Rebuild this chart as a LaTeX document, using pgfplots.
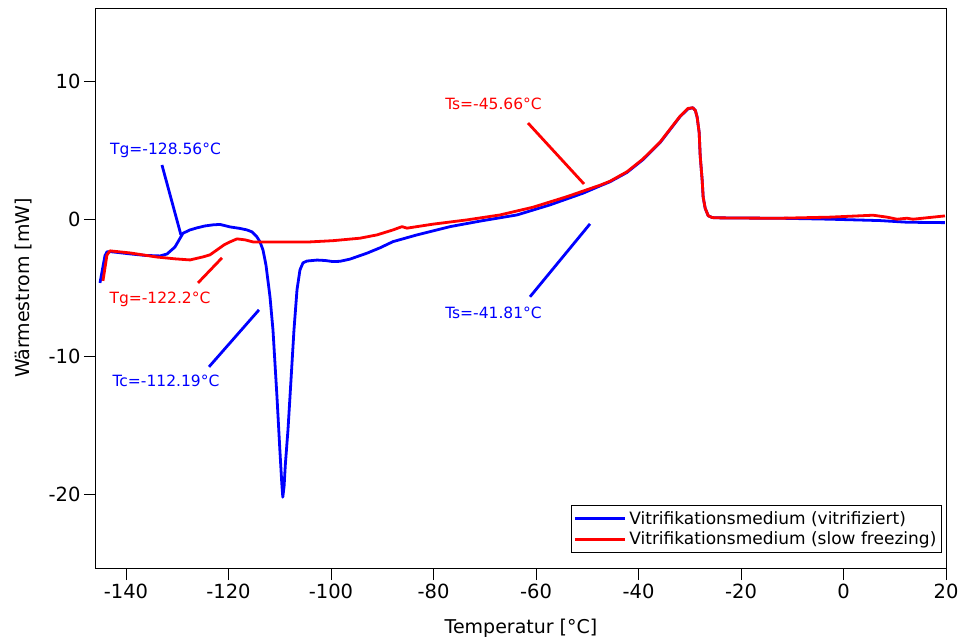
\documentclass[border=0pt]{standalone}
\usepackage{fontspec}
\setmainfont{DejaVu Sans}
\usepackage{pgfplots}
\pgfplotsset{compat=1.18}
\begin{document}
\begin{tikzpicture}
\useasboundingbox (0,0) rectangle (959pt,641pt);
\begin{axis}[
  at={(96pt,73pt)}, anchor=south west,
  width=850pt, height=560pt, scale only axis,
  xmin=-145.85, xmax=20, ymin=-25.35, ymax=15.35,
  xtick={-140,-120,...,20}, ytick={-20,-10,0,10},
  tick align=outside, major tick length=12pt,
  xtick pos=bottom, ytick pos=left,
  axis line style={line width=1pt, black},
  every tick/.style={black, line width=0.8pt},
  /pgf/number format/assume math mode=true,
  ticklabel style={font=\fontsize{19.5}{22}\selectfont},
  label style={font=\fontsize{19}{22}\selectfont},
  xlabel={Temperatur [°C]}, ylabel={Wärmestrom [mW]},
  xlabel style={at={(axis description cs:0.5,-0.1071)}, anchor=center},
  ylabel style={at={(axis description cs:-0.0847,0.5)}, anchor=center},
  legend style={at={(axis description cs:0.995,0.027)}, anchor=south east,
    draw=black, line width=0.8pt, font=\fontsize{17}{22}\selectfont,
    inner xsep=2pt, inner ysep=3pt, row sep=0pt, cells={anchor=west},
    nodes={inner ysep=3pt, inner xsep=3pt}},
  legend image code/.code={\path (-4pt,0pt) -- (46pt,0pt);\draw[line width=2.5pt] (0pt,0pt) -- (38pt,0pt);},
  every axis plot/.append style={line width=2.8pt, line join=round},
  clip=true,
]
\addplot[blue] coordinates {
(-145.07,-4.63) (-144.68,-3.83) (-144.10,-2.65) (-143.71,-2.37) (-142.73,-2.37)
(-139.22,-2.52) (-136.29,-2.63) (-133.37,-2.67) (-132.0,-2.53) (-130.44,-2.02)
(-128.88,-1.02) (-127.51,-0.78) (-126.15,-0.63) (-124.59,-0.49) (-123.02,-0.41)
(-121.66,-0.38) (-119.71,-0.56) (-117.76,-0.67) (-116.39,-0.78) (-115.41,-0.92)
(-114.44,-1.29) (-113.85,-1.65) (-113.27,-2.23) (-112.68,-3.34) (-111.90,-5.64)
(-111.32,-8.04) (-110.54,-12.9) (-110.0,-16.6) (-109.6,-19.2) (-109.4,-20.2)
(-109.15,-19.4) (-108.9,-17.8) (-108.39,-15.3) (-107.80,-11.67) (-107.22,-8.04)
(-106.63,-5.13) (-106.05,-3.68) (-105.46,-3.17) (-104.68,-3.04) (-102.73,-2.97)
(-101.17,-3.0) (-99.61,-3.08) (-98.24,-3.06) (-96.29,-2.90) (-92.98,-2.47)
(-90.44,-2.08) (-87.90,-1.63) (-83.22,-1.14) (-76.78,-0.54) (-70.34,-0.10)
(-63.71,0.31) (-57.27,1.04) (-50.83,1.89) (-47.51,2.42) (-45.56,2.72)
(-42.24,3.40) (-39.12,4.33) (-35.80,5.56) (-31.90,7.45) (-30.34,8.02)
(-29.4,8.1) (-28.9,7.9) (-28.55,7.4) (-28.16,6.3) (-27.96,4.6) (-27.57,2.8)
(-27.38,1.6) (-26.99,0.8) (-26.40,0.25) (-25.62,0.12) (-24.65,0.1)
(-18.24,0.08) (-12.39,0.07) (-2.63,0.0) (7.12,-0.1) (12.39,-0.22) (19.8,-0.25)
};
\addlegendentry{Vitrifikationsmedium (vitrifiziert)}
\addplot[red] coordinates {
(-144.49,-4.48) (-144.10,-3.54) (-143.71,-2.6) (-143.12,-2.30) (-139.22,-2.45)
(-133.95,-2.75) (-130.44,-2.88) (-127.51,-2.96) (-124.98,-2.74) (-123.61,-2.59)
(-122.24,-2.23) (-120.88,-1.87) (-119.71,-1.65) (-118.34,-1.43) (-116.78,-1.5)
(-115.22,-1.65) (-110.54,-1.65) (-104.10,-1.65) (-99.61,-1.56) (-94.34,-1.38)
(-91.02,-1.14) (-87.90,-0.78) (-86.15,-0.54) (-85.17,-0.65) (-80.10,-0.36)
(-73.46,-0.05) (-67.02,0.31) (-60.59,0.87) (-53.95,1.64) (-47.51,2.47)
(-45.56,2.76) (-42.24,3.45) (-39.12,4.38) (-35.80,5.60) (-31.90,7.48)
(-30.34,8.05) (-29.4,8.1) (-28.9,7.9) (-28.55,7.4) (-28.16,6.3) (-27.96,4.6)
(-27.57,2.8) (-27.38,1.6) (-26.99,0.8) (-26.40,0.25) (-25.62,0.12) (-24.65,0.1)
(-18.24,0.08) (-12.39,0.07) (-2.63,0.15) (5.76,0.29) (8.49,0.15) (10.44,0.0)
(12.39,0.07) (13.56,0.0) (19.8,0.24)
};
\addlegendentry{Vitrifikationsmedium (slow freezing)}
% annotations
\draw[blue, line width=2.8pt] (axis cs:-132.98,3.94) -- (axis cs:-129.27,-1.15);
\node[blue, font=\fontsize{15.5}{18}\selectfont] at (axis cs:-132.29,5.03) {Tg=-128.56°C};
\draw[red, line width=2.8pt] (axis cs:-125.95,-4.63) -- (axis cs:-121.27,-2.81);
\node[red, font=\fontsize{15.5}{18}\selectfont] at (axis cs:-133.37,-5.79) {Tg=-122.2°C};
\draw[blue, line width=2.8pt] (axis cs:-123.80,-10.73) -- (axis cs:-114.05,-6.59);
\node[blue, font=\fontsize{15.5}{18}\selectfont] at (axis cs:-132.20,-11.74) {Tc=-112.19°C};
\draw[red, line width=2.8pt] (axis cs:-61.56,6.99) -- (axis cs:-50.63,2.56);
\node[red, font=\fontsize{15.5}{18}\selectfont] at (axis cs:-68.29,8.36) {Ts=-45.66°C};
\draw[blue, line width=2.8pt] (axis cs:-61.17,-5.64) -- (axis cs:-49.46,-0.34);
\node[blue, font=\fontsize{15.5}{18}\selectfont] at (axis cs:-68.29,-6.80) {Ts=-41.81°C};
\end{axis}
\end{tikzpicture}
\end{document}
